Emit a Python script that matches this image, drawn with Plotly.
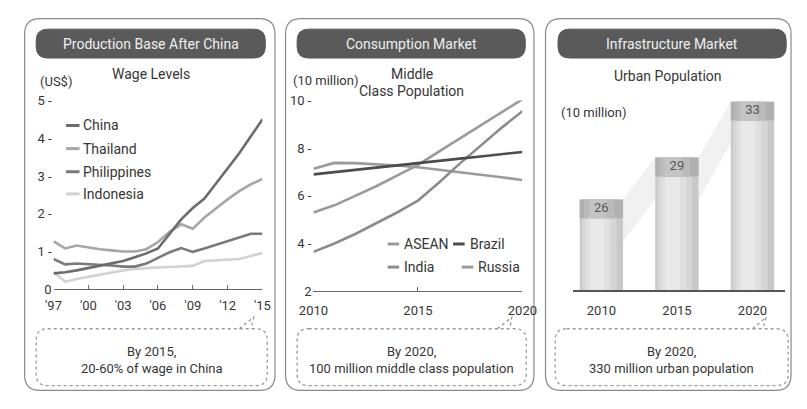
import plotly.graph_objects as go

W, H = 807, 409
FONT = "Liberation Sans Narrow, Roboto, sans-serif"
TXT = "#363636"

# ---------------- data ----------------
wage_years = list(range(1997, 2016))
wage_china = [0.42, 0.45, 0.50, 0.56, 0.62, 0.68, 0.75, 0.85, 0.95, 1.08, 1.45, 1.85, 2.15, 2.40, 2.80, 3.20, 3.60, 4.05, 4.50]
wage_thailand = [1.27, 1.08, 1.16, 1.10, 1.06, 1.03, 1.00, 1.00, 1.06, 1.25, 1.52, 1.72, 1.60, 1.90, 2.15, 2.38, 2.60, 2.78, 2.92]
wage_philippines = [0.80, 0.66, 0.68, 0.67, 0.65, 0.63, 0.60, 0.60, 0.68, 0.82, 0.98, 1.09, 0.99, 1.08, 1.18, 1.28, 1.38, 1.47, 1.47]
wage_indonesia = [0.46, 0.20, 0.27, 0.33, 0.39, 0.45, 0.50, 0.54, 0.57, 0.58, 0.59, 0.60, 0.62, 0.75, 0.76, 0.77, 0.80, 0.88, 0.96]
wage_tickvals = [1997, 2000, 2003, 2006, 2009, 2012, 2015]
wage_ticktext = ["'97", "'00", "'03", "'06", "'09", "'12", "'15"]
wage_ytickvals = [0, 1, 2, 3, 4, 5]
wage_yticktext = ["0", "1 -", "2 -", "3 -", "4 -", "5 -"]

mc_years = list(range(2010, 2021))
mc_asean = [5.30, 5.60, 6.00, 6.40, 6.85, 7.30, 7.85, 8.40, 8.95, 9.50, 10.05]
mc_india = [3.65, 4.00, 4.40, 4.85, 5.30, 5.80, 6.55, 7.35, 8.10, 8.85, 9.55]
mc_brazil = [6.90, 6.99, 7.08, 7.18, 7.27, 7.37, 7.46, 7.56, 7.65, 7.75, 7.84]
mc_russia = [7.13, 7.38, 7.37, 7.33, 7.27, 7.20, 7.10, 7.00, 6.90, 6.78, 6.66]
mc_tickvals = [2010, 2015, 2020]
mc_ytickvals = [2, 4, 6, 8, 10]
mc_yticktext = ["2", "4 -", "6 -", "8 -", "10 -"]

urban_years = [2010, 2015, 2020]
urban_pop = [26, 29, 33]


def px(x):
    return x / W


def py(y):
    return 1 - y / H


def rrect_path(x0, y0, x1, y1, r):
    def P(x, y):
        return f"{px(x):.5f},{py(y):.5f}"
    return (f"M {P(x0 + r, y0)} L {P(x1 - r, y0)} Q {P(x1, y0)} {P(x1, y0 + r)} "
            f"L {P(x1, y1 - r)} Q {P(x1, y1)} {P(x1 - r, y1)} L {P(x0 + r, y1)} "
            f"Q {P(x0, y1)} {P(x0, y1 - r)} L {P(x0, y0 + r)} Q {P(x0, y0)} {P(x0 + r, y0)} Z")


fig = go.Figure()

# ---------------- panel 1: wages ----------------
wage_series = [
    ("Indonesia", wage_indonesia, "#d2d2d2"),
    ("Philippines", wage_philippines, "#7a7a7a"),
    ("Thailand", wage_thailand, "#a6a6a6"),
    ("China", wage_china, "#6c6c6c"),
]
for name, vals, col in wage_series:
    fig.add_trace(go.Scatter(x=wage_years, y=vals, mode="lines", name=name,
                             line=dict(color=col, width=2.6), xaxis="x", yaxis="y",
                             showlegend=False, hoverinfo="skip"))

# ---------------- panel 2: middle class ----------------
mc_series = [
    ("Russia", mc_russia, "#9a9a9a"),
    ("India", mc_india, "#8c8c8c"),
    ("ASEAN", mc_asean, "#9a9a9a"),
    ("Brazil", mc_brazil, "#4c4c4c"),
]
for name, vals, col in mc_series:
    fig.add_trace(go.Scatter(x=mc_years, y=vals, mode="lines", name=name,
                             line=dict(color=col, width=2.6), xaxis="x2", yaxis="y2",
                             showlegend=False, hoverinfo="skip"))

# ---------------- panel 3: urban bars ----------------
bw = 2.87
for i in range(len(urban_years) - 1):
    xa = urban_years[i] + bw / 2
    xb = urban_years[i + 1] - bw / 2
    va, vb = urban_pop[i], urban_pop[i + 1]
    fig.add_trace(go.Scatter(x=[xa, xb, xb, xa, xa], y=[va, vb, vb - 3.0, va - 3.0, va],
                             mode="lines", fill="toself", fillcolor="rgba(205,205,205,0.3)",
                             line=dict(width=0), xaxis="x3", yaxis="y3",
                             showlegend=False, hoverinfo="skip"))

layers = [(1.00, "#c8c8c8", 0.0), (0.80, "#d5d5d5", -0.05), (0.58, "#dfdfdf", -0.08), (0.34, "#e8e8e8", -0.10)]
for frac, col, shift in layers:
    fig.add_trace(go.Bar(x=[v + shift * bw for v in urban_years], y=urban_pop, width=bw * frac,
                         marker=dict(color=col, line=dict(width=0)), xaxis="x3", yaxis="y3",
                         showlegend=False, hoverinfo="skip"))
band = 1.35
band_layers = [(1.00, "#b0b0b0", 0.0), (0.70, "#bababa", -0.05), (0.40, "#c4c4c4", -0.08)]
for frac, col, shift in band_layers:
    fig.add_trace(go.Bar(x=[v + shift * bw for v in urban_years], y=[band] * len(urban_pop),
                         base=[v - band for v in urban_pop], width=bw * frac,
                         marker=dict(color=col, line=dict(width=0)), xaxis="x3", yaxis="y3",
                         showlegend=False, hoverinfo="skip"))
fig.add_trace(go.Scatter(x=urban_years, y=[v - band / 2 for v in urban_pop], mode="text",
                         text=[str(v) for v in urban_pop],
                         textfont=dict(family=FONT, size=13, color="#555555"),
                         xaxis="x3", yaxis="y3", showlegend=False, hoverinfo="skip"))

# ---------------- axes ----------------
axis_font = dict(family=FONT, size=13, color=TXT)
common_x = dict(showgrid=False, zeroline=False, showline=True, linecolor="#6a6a6a", linewidth=1.2,
                ticks="inside", ticklen=4, tickcolor="#6a6a6a", tickfont=axis_font, fixedrange=True)
common_y = dict(showgrid=False, zeroline=False, showline=False, ticks="", tickfont=axis_font,
                fixedrange=True, ticklabelstandoff=1)

fig.update_layout(
    width=W, height=H, margin=dict(l=0, r=0, t=0, b=0),
    paper_bgcolor="white", plot_bgcolor="rgba(0,0,0,0)",
    barmode="overlay", showlegend=False,
    xaxis=dict(domain=[px(40), px(257)], range=[1997, 2015], anchor="y",
               tickvals=wage_tickvals, ticktext=wage_ticktext, ticklabelstandoff=4, **common_x),
    yaxis=dict(domain=[py(293), py(97)], range=[0, 5], anchor="x",
               tickvals=wage_ytickvals, ticktext=wage_yticktext, **common_y),
    xaxis2=dict(domain=[px(310), px(527)], range=[2010, 2020], anchor="y2",
                tickvals=mc_tickvals, ticktext=[str(v) for v in mc_tickvals], ticklabelstandoff=7, **common_x),
    yaxis2=dict(domain=[py(295), py(97)], range=[2, 10], anchor="x2",
                tickvals=mc_ytickvals, ticktext=mc_yticktext, **common_y),
    xaxis3=dict(domain=[px(580), px(800)], range=[2008.15, 2022.17], anchor="y3",
                tickvals=urban_years, ticktext=[str(v) for v in urban_years], ticklabelstandoff=7,
                **{**common_x, "ticks": "", "linecolor": "#555555", "linewidth": 1.5}),
    yaxis3=dict(domain=[py(294), py(83.75)], range=[19.5, 34], anchor="x3",
                showticklabels=False, **common_y),
)

# ---------------- decorations ----------------
shapes = []
annotations = []

panels = [(10, 270), (281, 539), (551, 806)]
for x0, x1 in panels:
    shapes.append(dict(type="path", path=rrect_path(x0, 12, x1, 398, 16), xref="paper", yref="paper",
                       line=dict(color="#8a8a8a", width=1.2), fillcolor="rgba(0,0,0,0)", layer="below"))

headers = [(22, 260, "Production Base After China"), (293, 530, "Consumption Market"),
           (564, 801, "Infrastructure Market")]
for x0, x1, t in headers:
    shapes.append(dict(type="path", path=rrect_path(x0, 23, x1, 53, 12), xref="paper", yref="paper",
                       line=dict(color="#5a5a5a", width=1), fillcolor="#5a5a5a", layer="below"))
    annotations.append(dict(x=px((x0 + x1) / 2), y=py(38.5), xref="paper", yref="paper", text=t,
                            showarrow=False, font=dict(family=FONT, size=14, color="#f0f0f0"),
                            xanchor="center", yanchor="middle"))

callouts = [(22, 262, (233, 334, 248, 322, 245, 334), "By 2015,", "20-60% of wage in China"),
            (293, 531, (501, 334, 516, 322, 514, 334), "By 2020,", "100 million middle class population"),
            (561, 803, (766, 334, 780, 322, 777, 334), "By 2020,", "330 million urban population")]
for x0, x1, tail, l1, l2 in callouts:
    shapes.append(dict(type="path", path=rrect_path(x0, 334, x1, 393, 12), xref="paper", yref="paper",
                       line=dict(color="#9a9a9a", width=1.3, dash="dot"), fillcolor="rgba(0,0,0,0)"))
    ax0, ay0, ax1, ay1, ax2, ay2 = tail
    shapes.append(dict(type="path",
                       path=f"M {px(ax0):.5f},{py(ay0):.5f} L {px(ax1):.5f},{py(ay1):.5f} L {px(ax2):.5f},{py(ay2):.5f}",
                       xref="paper", yref="paper", line=dict(color="#9a9a9a", width=1.3, dash="dot")))
    cx = (x0 + x1) / 2
    annotations.append(dict(x=px(cx), y=py(358), xref="paper", yref="paper", text=l1, showarrow=False,
                            font=dict(family=FONT, size=13, color=TXT), xanchor="center", yanchor="middle"))
    annotations.append(dict(x=px(cx), y=py(375), xref="paper", yref="paper", text=l2, showarrow=False,
                            font=dict(family=FONT, size=13, color=TXT), xanchor="center", yanchor="middle"))


def txt(x, y, t, size=13, anchor="left", color=TXT):
    annotations.append(dict(x=px(x), y=py(y), xref="paper", yref="paper", text=t, showarrow=False,
                            font=dict(family=FONT, size=size, color=color), xanchor=anchor, yanchor="middle"))


txt(141, 70, "Wage Levels", 14, "center")
txt(24, 77, "(US$)", 13)
txt(412, 70, "Middle", 14, "center")
txt(412, 87, "Class Population", 14, "center")
txt(287, 76, "(10 million)", 13)
txt(678, 72, "Urban Population", 14, "center")
txt(565, 110, "(10 million)", 13)

leg1 = [("China", "#6c6c6c", 123), ("Thailand", "#a6a6a6", 147),
        ("Philippines", "#7a7a7a", 171), ("Indonesia", "#d2d2d2", 194)]
for name, col, yy in leg1:
    shapes.append(dict(type="line", x0=px(53), x1=px(67), y0=py(yy), y1=py(yy), xref="paper", yref="paper",
                       line=dict(color=col, width=3)))
    txt(69, yy, name, 14)

leg2 = [("ASEAN", "#9a9a9a", 387, 246), ("Brazil", "#4c4c4c", 455, 246),
        ("India", "#8c8c8c", 387, 270), ("Russia", "#9a9a9a", 464, 270)]
for name, col, xx, yy in leg2:
    shapes.append(dict(type="line", x0=px(xx), x1=px(xx + 12), y0=py(yy), y1=py(yy), xref="paper", yref="paper",
                       line=dict(color=col, width=3)))
    txt(xx + 15, yy, name, 14)

fig.update_layout(shapes=shapes, annotations=annotations)
fig.write_html("out.html")
